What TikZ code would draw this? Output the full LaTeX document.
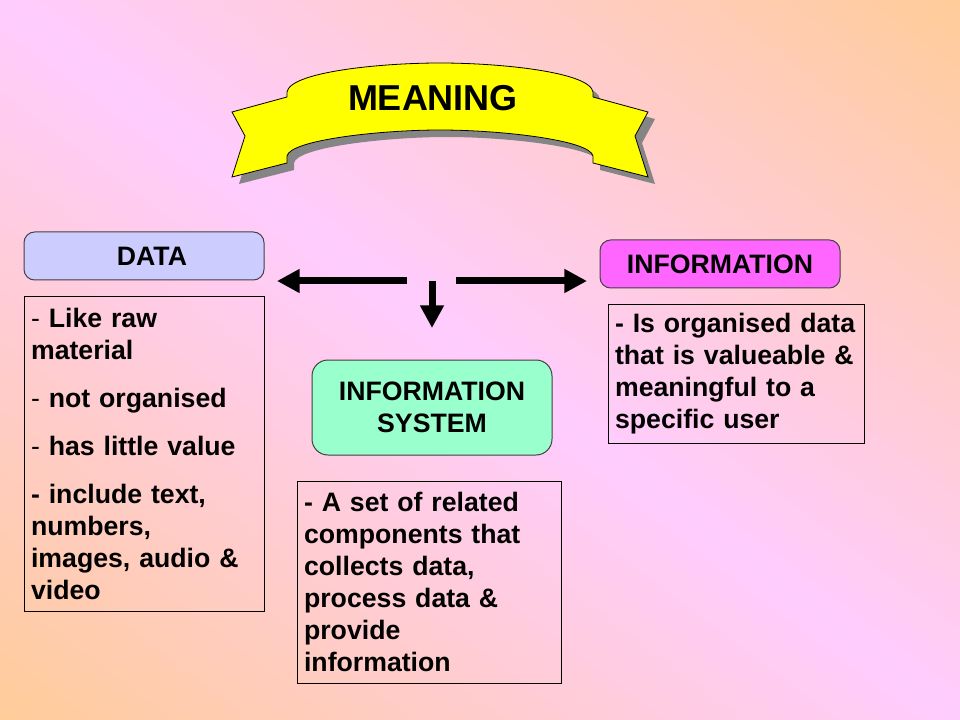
\documentclass[tikz,border=0pt]{standalone}
\usepackage{fontspec}
\setmainfont{Liberation Sans}
\usepackage{xcolor}
\usepackage{tikz}
\usetikzlibrary{arrows.meta, positioning, calc}
\definecolor{bgPink}{HTML}{FFCCFF}
\definecolor{bgPeach}{HTML}{FFCC99}
\definecolor{ribbonYellow}{HTML}{FFFF00}
\definecolor{ribbonShadow}{HTML}{858585}
\definecolor{dataFill}{HTML}{CCCCFF}
\definecolor{infoFill}{HTML}{FF66FF}
\definecolor{sysFill}{HTML}{99FFCC}
\definecolor{boxEdge}{HTML}{404040}

% banner outline, in pixel units
\newcommand{\ribbonoutline}{(232,112) -- (287,97) -- (287,92)
  .. controls (290,72) and (380,63) .. (440,63)
  .. controls (500,63) and (590,72) .. (593,92) -- (593,97) -- (648,112)
  -- (635,136) -- (648,177) -- (593,163) -- (593,156)
  .. controls (590,140) and (500,130) .. (440,130)
  .. controls (380,130) and (290,140) .. (287,156) -- (287,163)
  -- (232,177) -- (245,136) -- cycle}

\tikzset{
  titlebox/.style={draw=boxEdge, line width=0.75pt, rounded corners=8pt,
    minimum width=180pt, align=center,
    font=\fontsize{20}{24}\selectfont\bfseries},
  notebox/.style={draw=black, line width=0.6pt, anchor=north west,
    inner xsep=5pt, align=left,
    font=\fontsize{20}{24}\selectfont\bfseries},
  bigarrow/.style={line width=5.25pt, -{Triangle[length=17pt, width=17pt]}}
}

\begin{document}
\begin{tikzpicture}[x=0.75pt, y=-0.75pt]
  \useasboundingbox (0,0) rectangle (960,720);

  % background: pink along the main diagonal, peach towards the other corners
  \begin{scope}
    \clip (0,0) rectangle (960,720);
    \foreach \i in {0,...,143} {
      \pgfmathsetmacro{\da}{-576+8*\i}
      \pgfmathsetmacro{\db}{\da+9}
      \pgfmathsetmacro{\mix}{100-abs(\da+4)/5.76}
      \fill[bgPink!\mix!bgPeach]
        ({0.6*\da-240},{-0.8*\da-180}) -- ({0.6*\da+1200},{-0.8*\da+900})
        -- ({0.6*\db+1200},{-0.8*\db+900}) -- ({0.6*\db-240},{-0.8*\db-180}) -- cycle;
    }
  \end{scope}

  % banner
  \fill[ribbonShadow, shift={(7,7)}] \ribbonoutline;
  \filldraw[fill=ribbonYellow, draw=black, line width=0.6pt] \ribbonoutline;
  \node (meaning) at (433,98) {\fontsize{27}{32}\selectfont\bfseries MEANING};

  % headings
  \node[titlebox, fill=dataFill, minimum height=36pt] (data) at (144,256) {\hspace*{12pt}DATA};
  \node[titlebox, fill=infoFill, minimum height=36pt] (info) at (720,264) {INFORMATION};
  \node[titlebox, fill=sysFill, minimum height=71.25pt, rounded corners=12pt] (system) at (432,407.5) {INFORMATION\\SYSTEM};

  % notes
  \node[notebox, text width=170pt, minimum height=236.25pt] (datanote) at (24,296)
    {\textmd{-} Like raw\\material\\[12pt]\textmd{-} not organised\\[12pt]\textmd{-} has little value\\[12pt]- include text,\\numbers,\\images, audio \&\\video};
  \node[notebox, text width=182pt, minimum height=104.25pt] (infonote) at (608,304)
    {- Is organised data\\that is valueable \&\\meaningful to a\\specific user};
  \node[notebox, text width=188pt, minimum height=151.5pt] (sysnote) at (297,481)
    {- A set of related\\components that\\collects data,\\process data \&\\provide\\information};

  % arrows
  \coordinate (splitL) at (407,281);
  \coordinate (splitR) at (456,281);
  \coordinate (splitD) at (432,281);
  \coordinate (tipL) at (277,281);
  \coordinate (tipR) at (587,281);
  \coordinate (tipD) at (432,328);
  \draw[bigarrow] (splitL) -- (tipL);
  \draw[bigarrow] (splitR) -- (tipR);
  \draw[bigarrow] (splitD) -- (tipD);
\end{tikzpicture}
\end{document}
